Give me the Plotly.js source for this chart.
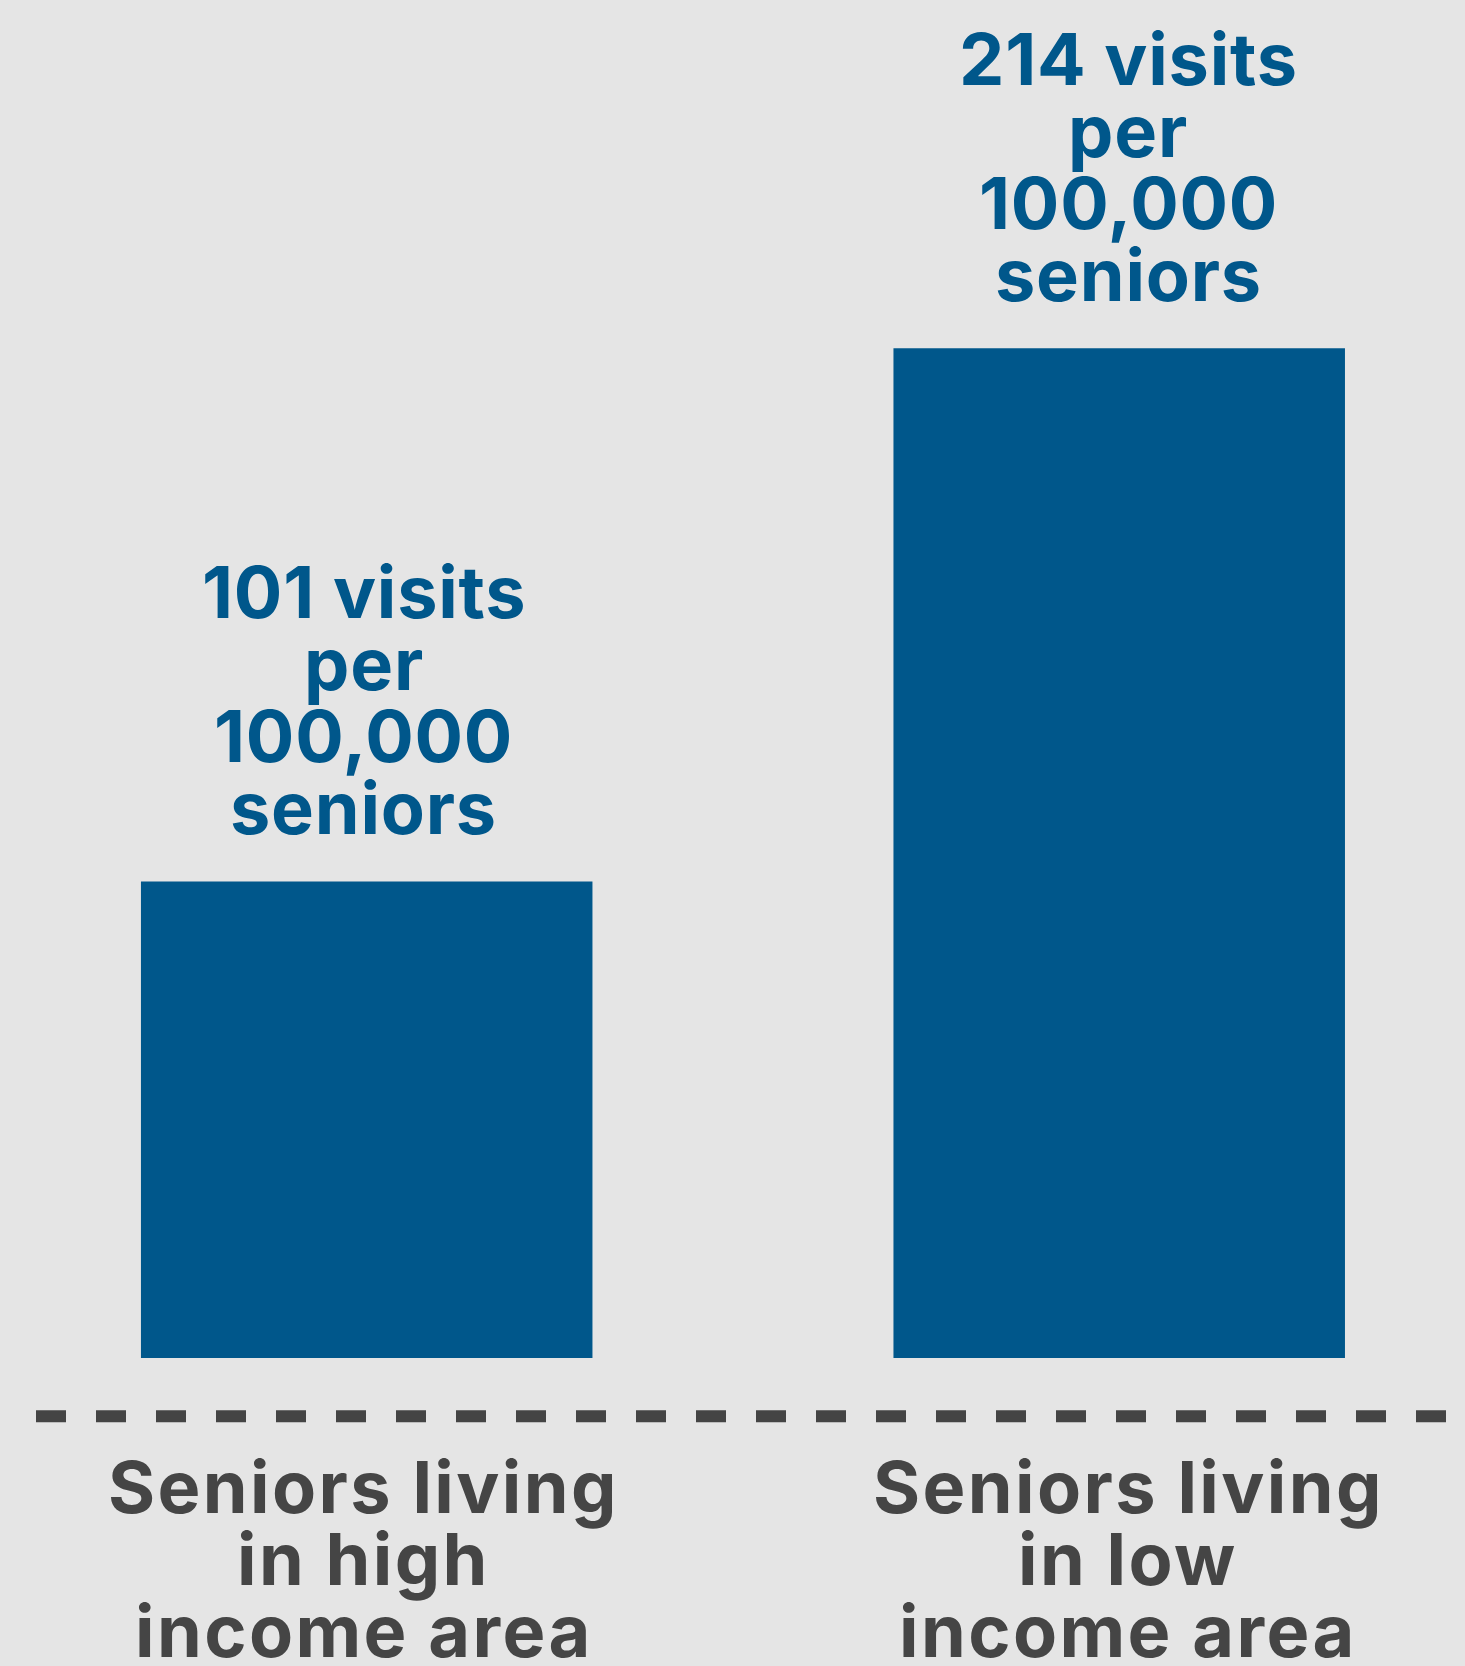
<!DOCTYPE html>
<html>
<head>
<meta charset="utf-8">
<script src="https://cdn.plot.ly/plotly-3.0.1.min.js"></script>
<style>
  html, body { margin: 0; padding: 0; background: #e5e5e5; }
  #chart { width: 1465px; height: 1666px; }
  /* widen the grey category labels slightly (reference font is broader) */
  .annotation-text[style*="rgb(69, 69, 69)"] { letter-spacing: 2.4px; }
  .annotation-text[style*="rgb(0, 87, 139)"] { letter-spacing: 0.8px; }
</style>
</head>
<body>
<div id="chart"></div>
<script>
// ---- data ----
const categories = ["high income", "low income"];
const values = [101, 214];
const categoryLabelLines = [
  ["Seniors living", "in high", "income area"],
  ["Seniors living", "in low", "income area"]
];
const valueLabelLines = [
  ["101 visits", "per", "100,000", "seniors"],
  ["214 visits", "per", "100,000", "seniors"]
];

// ---- styles ----
const BLUE = "#00578b";
const GREY = "#454545";
const FONT = "Inter, 'Noto Sans', sans-serif";
const FS = 72;
const LINE = 72;
const LABEL_XSHIFT = [-3, 9];   // small horizontal nudges of the texts per column

const annotations = [];
categories.forEach((c, i) => {
  const lines = valueLabelLines[i];
  lines.forEach((t, j) => {
    annotations.push({
      x: c, y: values[i], xref: "x", yref: "y",
      text: t, showarrow: false, xanchor: "center", yanchor: "bottom",
      xshift: LABEL_XSHIFT[i],
      yshift: 28 + (lines.length - 1 - j) * LINE,
      font: { family: FONT, size: FS, color: BLUE, weight: 700 }
    });
  });
  categoryLabelLines[i].forEach((t, j) => {
    annotations.push({
      x: c, y: 0, xref: "x", yref: "y",
      text: t, showarrow: false, xanchor: "center", yanchor: "top",
      xshift: LABEL_XSHIFT[i],
      yshift: -83 - j * LINE,
      font: { family: FONT, size: FS, color: GREY, weight: 700 }
    });
  });
});

const trace = {
  type: "bar",
  x: categories,
  y: values,
  marker: { color: BLUE, line: { width: 0 } },
  hoverinfo: "skip"
};

const layout = {
  width: 1465, height: 1666,
  margin: { l: 0, r: 0, t: 0, b: 307.5, pad: 0 },
  paper_bgcolor: "#e5e5e5",
  plot_bgcolor: "#e5e5e5",
  bargap: 0.4,
  showlegend: false,
  xaxis: {
    type: "category",
    range: [-0.4873, 1.4595],
    showticklabels: false, showgrid: false, zeroline: false, showline: false, ticks: ""
  },
  yaxis: {
    range: [0, 287.8],
    showticklabels: false, showgrid: false, zeroline: false, showline: false, ticks: ""
  },
  shapes: [{
    type: "line", xref: "paper", yref: "paper",
    x0: 36 / 1465, x1: 1448 / 1465,
    y0: -58.2 / 1358.5, y1: -58.2 / 1358.5,
    line: { color: "#444444", width: 12, dash: "30px,30px" }
  }],
  annotations: annotations
};

Plotly.newPlot("chart", [trace], layout, { staticPlot: true, displayModeBar: false });
</script>
</body>
</html>
